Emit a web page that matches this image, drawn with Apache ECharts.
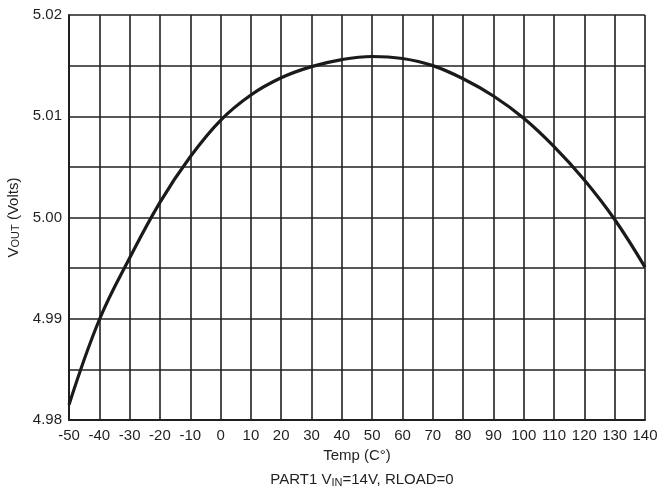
<!DOCTYPE html>
<html>
<head>
<meta charset="utf-8">
<script src="https://cdn.jsdelivr.net/npm/echarts@6/dist/echarts.min.js"></script>
<style>
  html, body { margin: 0; padding: 0; background: #fff; }
  #main { width: 660px; height: 494px; }
</style>
</head>
<body>
<div id="main"></div>
<script>
// temperature points (C) and output voltage
var temps = [-50, -40, -30, -20, -10, 0, 10, 20, 30, 40, 50, 60, 70, 80, 90, 100, 110, 120, 130, 140];
var vout = [4.9815, 4.9899, 4.9960, 5.0015, 5.0060, 5.0096, 5.0121, 5.0138, 5.0149, 5.0156,
            5.0159, 5.0157, 5.0150, 5.0137, 5.0120, 5.0098, 5.0070, 5.0037, 4.9998, 4.9951];
var yTicks = [4.98, 4.99, 5.00, 5.01, 5.02];

var seriesData = [];
for (var i = 0; i < temps.length; i++) {
    seriesData.push([temps[i], vout[i]]);
}

var myChart = echarts.init(document.getElementById('main'));
var lineCol = '#231f20';
var option = {
    animation: false,
    textStyle: { fontFamily: 'Liberation Sans, Arial, sans-serif' },
    grid: { left: 69, right: 15, top: 15, bottom: 74, containLabel: false, outerBoundsMode: 'none' },
    title: {
        text: 'PART1 V{s|IN}=14V, RLOAD=0',
        left: 357,
        textAlign: 'center',
        top: 466,
        textStyle: {
            fontSize: 15, fontWeight: 'normal', color: lineCol,
            rich: { s: { fontSize: 11, verticalAlign: 'bottom', padding: [6, 0, 0, 0], color: lineCol } }
        }
    },
    xAxis: {
        type: 'value',
        min: -50, max: 140, interval: 10,
        name: 'Temp (C°)',
        nameLocation: 'middle',
        nameGap: 28,
        nameTextStyle: { fontSize: 15, color: lineCol },
        axisLine: { show: true, onZero: false, lineStyle: { color: lineCol, width: 2 } },
        axisTick: { show: false },
        axisLabel: { fontSize: 15, color: lineCol, margin: 8 },
        splitLine: { show: true, lineStyle: { color: lineCol, width: 1.6 } }
    },
    yAxis: {
        type: 'value',
        min: 4.98, max: 5.02, interval: 0.005,
        name: 'V{s|OUT} (Volts)',
        nameLocation: 'middle',
        nameGap: 47,
        nameTextStyle: {
            fontSize: 15, color: lineCol,
            rich: { s: { fontSize: 11, color: lineCol, padding: [5, 0, 0, 0] } }
        },
        axisLine: { show: true, onZero: false, lineStyle: { color: lineCol, width: 2 } },
        axisTick: { show: false },
        axisLabel: {
            fontSize: 15, color: lineCol, margin: 7,
            formatter: function (v) {
                for (var k = 0; k < yTicks.length; k++) {
                    if (Math.abs(v - yTicks[k]) < 1e-6) return yTicks[k].toFixed(2);
                }
                return '';
            }
        },
        splitLine: { show: true, lineStyle: { color: lineCol, width: 1.6 } }
    },
    series: [{
        type: 'line',
        data: seriesData,
        smooth: 0.4,
        showSymbol: false,
        lineStyle: { color: '#1a1a1a', width: 3.2 }
    }]
};
myChart.setOption(option);
</script>
</body>
</html>
